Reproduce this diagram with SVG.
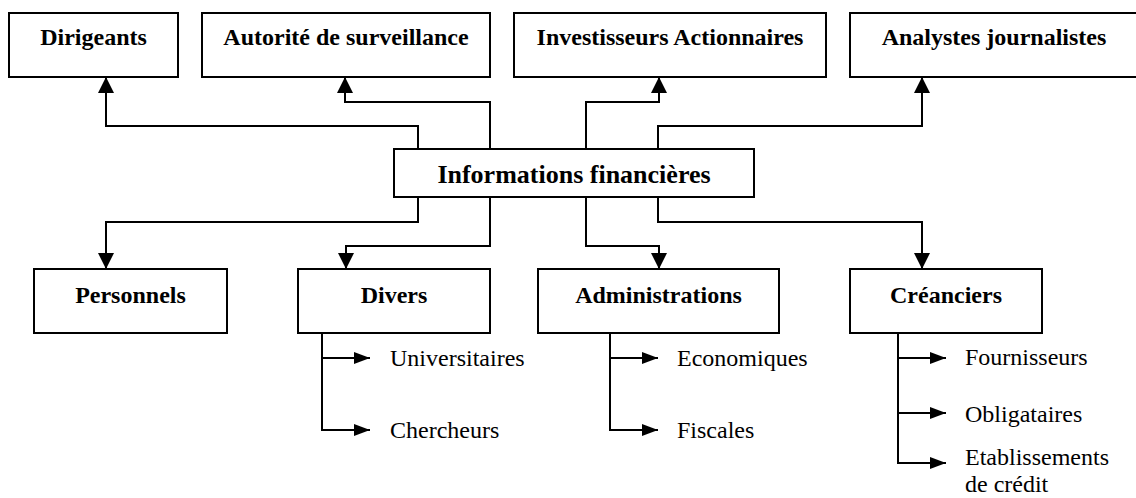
<svg xmlns="http://www.w3.org/2000/svg" width="1136" height="498" viewBox="0 0 1136 498">
<style>
.box{fill:#fff;stroke:#000;stroke-width:2}
.lbl{font-family:"Liberation Serif","Times New Roman",serif;font-weight:bold;font-size:24px;text-anchor:middle;fill:#000}
.ctr{font-size:26px}
.sub{font-family:"Liberation Serif","Times New Roman",serif;font-size:24px;fill:#000}
.con{fill:none;stroke:#000;stroke-width:2}
.big{marker-end:url(#ah)}
.sm{marker-end:url(#as)}
</style>
<defs>
<marker id="ah" markerUnits="userSpaceOnUse" markerWidth="16" markerHeight="16" refX="16" refY="8" orient="auto"><path d="M0,0 L16,8 L0,16 z" fill="#000"/></marker>
<marker id="as" markerUnits="userSpaceOnUse" markerWidth="16" markerHeight="12" refX="16" refY="6" orient="auto"><path d="M0,0 L16,6 L0,12 z" fill="#000"/></marker>
</defs>
<rect width="1136" height="498" fill="#fff"/>
<g id="connectors">
<path class="con big" d="M418,149 V126 H106 V77"/>
<path class="con big" d="M490,149 V102 H345 V77"/>
<path class="con big" d="M586,149 V102 H659 V77"/>
<path class="con big" d="M658,149 V126 H922 V77"/>
<path class="con big" d="M418,197 V222 H106 V269"/>
<path class="con big" d="M490,197 V246 H346 V269"/>
<path class="con big" d="M586,197 V246 H659 V269"/>
<path class="con big" d="M658,197 V222 H922 V269"/>
<path class="con sm" d="M322,333 V430 H370"/>
<path class="con sm" d="M322,358 H370"/>
<path class="con sm" d="M610,333 V430 H658"/>
<path class="con sm" d="M610,358 H658"/>
<path class="con sm" d="M898,333 V463 H946"/>
<path class="con sm" d="M898,358 H946"/>
<path class="con sm" d="M898,413 H946"/>
</g>
<g id="dirigeants"><rect class="box" x="9" y="13" width="169" height="64"/><text class="lbl" x="93.5" y="45">Dirigeants</text></g>
<g id="autorite"><rect class="box" x="202" y="13" width="288" height="64"/><text class="lbl" x="346" y="45">Autorité de surveillance</text></g>
<g id="investisseurs"><rect class="box" x="514" y="13" width="312" height="64"/><text class="lbl" x="670" y="45">Investisseurs Actionnaires</text></g>
<g id="analystes"><rect class="box" x="850" y="13" width="290" height="64"/><text class="lbl" x="994" y="45">Analystes journalistes</text></g>
<g id="informations"><rect class="box" x="394" y="149" width="360" height="48"/><text class="lbl ctr" x="574" y="183">Informations financières</text></g>
<g id="personnels"><rect class="box" x="34" y="269" width="193" height="64"/><text class="lbl" x="130.5" y="303">Personnels</text></g>
<g id="divers"><rect class="box" x="298" y="269" width="192" height="64"/><text class="lbl" x="394" y="303">Divers</text></g>
<g id="administrations"><rect class="box" x="538" y="269" width="241" height="64"/><text class="lbl" x="658.5" y="303">Administrations</text></g>
<g id="creanciers"><rect class="box" x="850" y="269" width="192" height="64"/><text class="lbl" x="946" y="303">Créanciers</text></g>
<g id="universitaires"><text class="sub" x="390" y="366">Universitaires</text></g>
<g id="chercheurs"><text class="sub" x="390" y="438">Chercheurs</text></g>
<g id="economiques"><text class="sub" x="677" y="366">Economiques</text></g>
<g id="fiscales"><text class="sub" x="677" y="438">Fiscales</text></g>
<g id="fournisseurs"><text class="sub" x="965" y="365">Fournisseurs</text></g>
<g id="obligataires"><text class="sub" x="965" y="422">Obligataires</text></g>
<g id="etablissements"><text class="sub" x="965" y="465" font-size="23">Etablissements</text><text class="sub" x="965" y="492" font-size="23">de crédit</text></g>
</svg>
